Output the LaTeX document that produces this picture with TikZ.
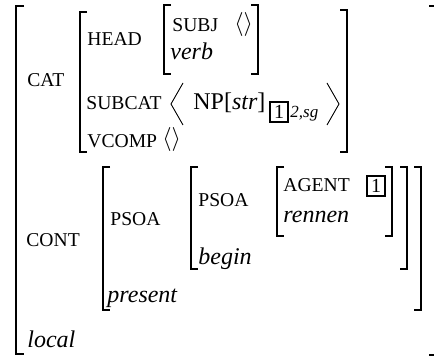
\documentclass[tikz,border=0pt]{standalone}
\usepackage{fontspec}
\setmainfont{Liberation Serif}
\begin{document}
\begin{tikzpicture}[x=0.5pt,y=-0.5pt,
  br/.style={line width=0.9pt},
  ang/.style={line width=0.45pt},
  ft/.style={font=\fontsize{9.8}{11}\selectfont, inner sep=0pt, anchor=base west},
  vl/.style={font=\fontsize{12}{14}\selectfont\itshape, inner sep=0pt, anchor=base west},
  rm/.style={font=\fontsize{12}{14}\selectfont, inner sep=0pt, anchor=base west},
  sub/.style={font=\fontsize{8.5}{10}\selectfont\itshape, inner sep=0pt, anchor=base west},
  tagbox/.style={draw, line width=0.95pt, inner sep=0pt, font=\fontsize{10}{11}\selectfont, minimum width=9.2pt, minimum height=10pt}]
\useasboundingbox (0,0) rectangle (434,356);
% brackets
\draw[br] (24,6) -- (16,6) -- (16,354) -- (24,354);
\draw[br] (429,6) -- (434,6);
\draw[br] (429,355) -- (434,355);
\draw[br] (87,12) -- (80,12) -- (80,152) -- (87,152);
\draw[br] (340,10) -- (347,10) -- (347,152) -- (340,152);
\draw[br] (171,5) -- (164,5) -- (164,74) -- (171,74);
\draw[br] (251,5) -- (258,5) -- (258,74) -- (251,74);
\draw[br] (110,167) -- (103,167) -- (103,310) -- (110,310);
\draw[br] (414,167) -- (421,167) -- (421,310) -- (414,310);
\draw[br] (198,167) -- (191,167) -- (191,269) -- (198,269);
\draw[br] (400,167) -- (407,167) -- (407,269) -- (400,269);
\draw[br] (284,167) -- (277,167) -- (277,236) -- (284,236);
\draw[br] (385,167) -- (392,167) -- (392,236) -- (385,236);
% CAT part
\node[ft] (cat) at (27,87) {CAT};
\node[ft] (head) at (87,46) {HEAD};
\node[ft] (subj) at (172,32) {SUBJ};
\node[rm] (subjv) at (234,31) {$\langle\rangle$};
\node[vl] (verb) at (170,60) {verb};
\node[ft] (subcat) at (86,110) {SUBCAT};
\draw[ang] (183,83) -- (171,104) -- (183,125);
\node[rm] (np) at (193,110) {NP[\textit{str}]};
\node[tagbox] (t1) at (279,112) {1};
\node[sub] (num) at (290,118) {2,sg};
\draw[ang] (327,83) -- (339,104) -- (327,125);
\node[ft] (vcomp) at (87,148) {VCOMP};
\node[rm] (vcompv) at (162,146) {$\langle\rangle$};
% CONT part
\node[ft] (cont) at (26,247) {CONT};
\node[ft] (psoa1) at (110,226) {PSOA};
\node[ft] (psoa2) at (198,207) {PSOA};
\node[ft] (agent) at (283,192) {AGENT};
\node[tagbox] (t2) at (376,186) {1};
\node[vl] (rennen) at (283,223) {rennen};
\node[vl] (begin) at (198,265) {begin};
\node[vl] (present) at (107,303) {present};
\node[vl] (local) at (27,348) {local};
\end{tikzpicture}
\end{document}
